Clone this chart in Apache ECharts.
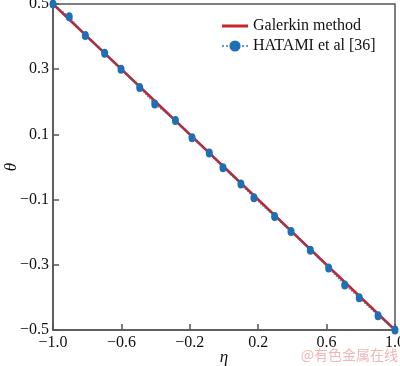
<!DOCTYPE html>
<html>
<head>
<meta charset="utf-8">
<script src="https://cdn.jsdelivr.net/npm/echarts@6/dist/echarts.min.js"></script>
<style>html,body{margin:0;padding:0;background:#fff}#c{width:400px;height:366px}</style>
</head>
<body>
<div id="c"></div>
<script>
// Data
var galerkinEta = [-1.0, -0.5, 0.0, 0.5, 1.0];
var galerkinTheta = [0.5, 0.25, 0.0, -0.25, -0.5];
var hatamiEta = [-1.0, -0.905, -0.811, -0.698, -0.602, -0.493, -0.405, -0.284, -0.187, -0.086, -0.006, 0.099, 0.175, 0.296, 0.392, 0.505, 0.612, 0.706, 0.791, 0.901, 1.0];
var hatamiTheta = [0.5, 0.461, 0.403, 0.349, 0.300, 0.244, 0.193, 0.143, 0.090, 0.043, -0.002, -0.052, -0.094, -0.152, -0.198, -0.255, -0.310, -0.362, -0.401, -0.456, -0.5];
var xTicks = [-1.0, -0.6, -0.2, 0.2, 0.6, 1.0];
var yTicks = [-0.5, -0.3, -0.1, 0.1, 0.3, 0.5];
var seriesNames = ['Galerkin method', 'HATAMI et al [36]'];

function zip(a, b) { return a.map(function (v, i) { return [v, b[i]]; }); }
function fmt(v) { var s = Math.abs(v).toFixed(1); return (v < 0 ? '\u2212' : '') + s; }

var serif = 'Liberation Serif';
var axisCol = '#555555';
var chart = echarts.init(document.getElementById('c'), null, { renderer: 'canvas' });
chart.setOption({
  animation: false,
  backgroundColor: '#ffffff',
  grid: { left: 53, right: 5, top: 4, bottom: 36, containLabel: false, outerBoundsMode: 'none',
    show: true, borderColor: axisCol, borderWidth: 1.5 },
  legend: {
    orient: 'vertical', left: 216, top: 13, itemWidth: 26, itemHeight: 14, itemGap: 4,
    textStyle: { fontFamily: serif, fontSize: 16, color: '#111' },
    data: [
      { name: seriesNames[0], icon: 'path://M0,0 L26,0 L26,3 L0,3 Z', itemStyle: { color: '#c3262c' } },
      { name: seriesNames[1] }
    ]
  },
  xAxis: {
    type: 'value', min: -1.0, max: 1.0, interval: 0.4,
    name: '\u03b7', nameLocation: 'middle', nameGap: 19, nameMoveOverlap: false,
    nameTextStyle: { fontFamily: serif, fontSize: 17, fontStyle: 'italic', color: '#111' },
    axisLine: { show: true, onZero: false, lineStyle: { color: axisCol, width: 1.5 } },
    axisTick: { show: true, inside: true, length: 6, lineStyle: { color: axisCol, width: 1.5 } },
    axisLabel: { margin: 5, fontFamily: serif, fontSize: 16, color: '#111', formatter: fmt,
      customValues: xTicks },
    splitLine: { show: false }
  },
  yAxis: {
    type: 'value', min: -0.5, max: 0.5, interval: 0.2,
    name: '\u03b8', nameLocation: 'middle', nameGap: 33, nameRotate: 90, nameMoveOverlap: false,
    nameTextStyle: { fontFamily: serif, fontSize: 17, fontStyle: 'italic', color: '#111' },
    axisLine: { show: true, onZero: false, lineStyle: { color: axisCol, width: 1.5 } },
    axisTick: { show: true, inside: true, length: 6, lineStyle: { color: axisCol, width: 1.5 } },
    axisLabel: { margin: 4, fontFamily: serif, fontSize: 16, color: '#111', formatter: fmt,
      customValues: yTicks },
    splitLine: { show: false }
  },
  series: [
    {
      name: seriesNames[0], type: 'line', data: zip(galerkinEta, galerkinTheta), z: 2,
      symbol: 'none', showSymbol: false,
      itemStyle: { color: '#c3262c' },
      lineStyle: { color: '#c3262c', width: 2.5 }
    },
    {
      name: seriesNames[1], type: 'line', data: zip(hatamiEta, hatamiTheta), z: 3,
      symbol: 'circle', symbolSize: [7, 9], showSymbol: true,
      itemStyle: { color: '#1f6fb4' },
      lineStyle: { color: '#1f6fb4', width: 1.5, type: 'dotted', opacity: 0.7 }
    }
  ],
  graphic: [{
    type: 'text', right: 2, bottom: 4, z: 100,
    style: { text: '@\u6709\u8272\u91d1\u5c5e\u5728\u7ebf', fontFamily: 'Noto Sans CJK SC', fontSize: 14, fill: 'rgba(230,120,120,0.55)' }
  }]
});
</script>
</body>
</html>
